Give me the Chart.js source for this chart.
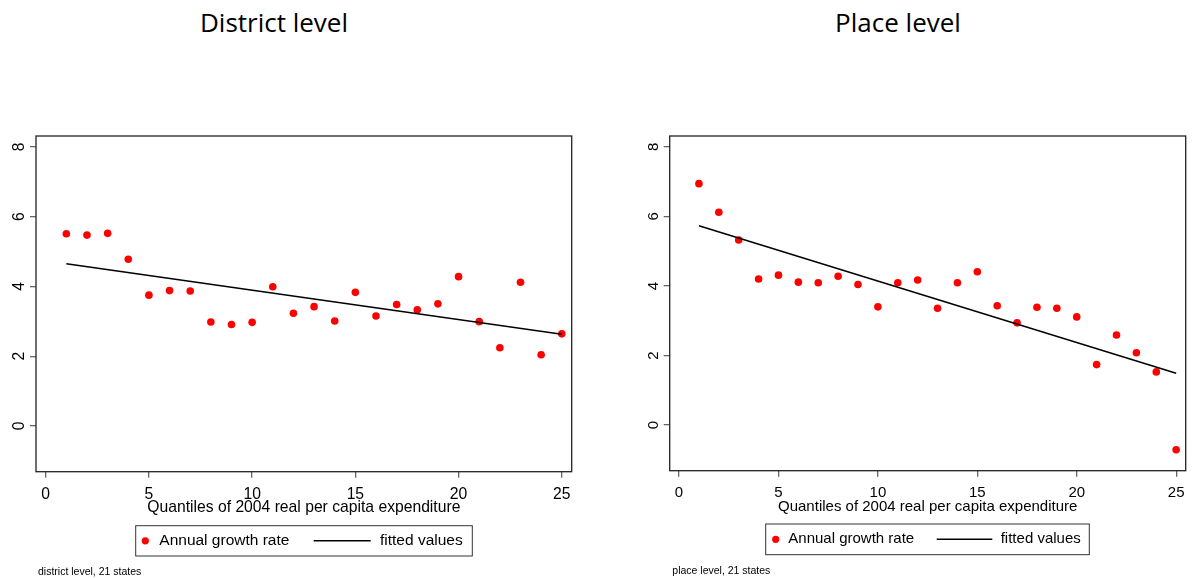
<!DOCTYPE html>
<html>
<head>
<meta charset="utf-8">
<title>Growth by quantile</title>
<script src="https://cdn.jsdelivr.net/npm/chart.js@4.4.1/dist/chart.umd.min.js"></script>
<style>
    body { margin: 0; background: #fff; width: 1193px; height: 578px; position: relative; overflow: hidden; }
    .titulo { position: absolute; top: 7px; width: 300px; text-align: center; font-family: "Open Sans", sans-serif; font-size: 26px; line-height: 30px; color: #000; }
    canvas { position: absolute; top: 0; }
</style>
</head>
<body>
<div class="titulo" style="left:124px">District level</div>
<div class="titulo" style="left:748px">Place level</div>
<canvas id="graficoDistrito" width="600" height="578" style="left:0"></canvas>
<canvas id="graficoLugar" width="593" height="578" style="left:600px"></canvas>

<script>
const cuantiles = [1, 2, 3, 4, 5, 6, 7, 8, 9, 10, 11, 12, 13, 14, 15, 16, 17, 18, 19, 20, 21, 22, 23, 24, 25];
const crecimientoDistrito = [5.51, 5.47, 5.52, 4.78, 3.75, 3.88, 3.87, 2.98, 2.91, 2.97, 3.99, 3.23, 3.42, 3.01, 3.83, 3.15, 3.48, 3.33, 3.50, 4.28, 2.99, 2.24, 4.12, 2.04, 2.64];
const crecimientoLugar = [6.94, 6.12, 5.32, 4.20, 4.31, 4.11, 4.09, 4.28, 4.04, 3.40, 4.09, 4.17, 3.36, 4.09, 4.41, 3.43, 2.94, 3.39, 3.36, 3.11, 1.74, 2.59, 2.08, 1.53, -0.71];
const ajusteX = [1, 25];
const ajusteDistrito = [4.65, 2.63];
const ajusteLugar = [5.73, 1.49];
const ticksX = [0, 5, 10, 15, 20, 25];
const ticksY = [0, 2, 4, 6, 8];
const etiquetas = ['Annual growth rate', 'fitted values'];
const tituloEjeX = 'Quantiles of 2004 real per capita expenditure';

Chart.defaults.font.family = '"Liberation Sans", Arial, sans-serif';
Chart.defaults.color = '#000';

// marco del grafico, leyenda con recuadro y nota al pie
const marcoPlugin = {
    id: 'marco',
    afterDraw(chart, args, opts) {
        const ctx = chart.ctx;
        const a = chart.chartArea;
        ctx.save();
        ctx.strokeStyle = '#222';
        ctx.lineWidth = 1.3;
        ctx.strokeRect(a.left, a.top, a.right - a.left, a.bottom - a.top);

        const L = opts.leyenda;
        const ds = chart.data.datasets;
        const cy = L.y + L.h / 2;
        ctx.strokeStyle = '#333';
        ctx.lineWidth = 1;
        ctx.strokeRect(L.x, L.y, L.w, L.h);
        ctx.fillStyle = ds[0].backgroundColor;
        ctx.beginPath();
        ctx.arc(L.punto, cy, 3.6, 0, Math.PI * 2);
        ctx.fill();
        ctx.strokeStyle = ds[1].borderColor;
        ctx.lineWidth = 1.5;
        ctx.beginPath();
        ctx.moveTo(L.linea[0], cy);
        ctx.lineTo(L.linea[1], cy);
        ctx.stroke();
        ctx.fillStyle = '#000';
        ctx.font = L.fuente + 'px "Liberation Sans", Arial, sans-serif';
        ctx.textAlign = 'left';
        ctx.textBaseline = 'middle';
        ctx.fillText(ds[0].label, L.texto1, cy);
        ctx.fillText(ds[1].label, L.texto2, cy);

        ctx.font = '10.5px "Liberation Sans", Arial, sans-serif';
        ctx.fillText(opts.nota, opts.notaX, opts.notaY);
        ctx.restore();
    }
};

function crearGrafico(id, valores, ajuste, g) {
    const ctx = document.getElementById(id).getContext('2d');
    return new Chart(ctx, {
        type: 'scatter',
        data: {
            datasets: [{
                label: etiquetas[0],
                data: cuantiles.map((q, i) => ({ x: q, y: valores[i] })),
                backgroundColor: '#ff0000',
                borderColor: '#ff0000',
                pointRadius: 3.8,
                pointBorderWidth: 0,
                order: 2
            }, {
                label: etiquetas[1],
                data: ajusteX.map((q, i) => ({ x: q, y: ajuste[i] })),
                showLine: true,
                borderColor: '#000',
                borderWidth: 1.5,
                pointRadius: 0,
                order: 1
            }]
        },
        options: {
            responsive: false,
            animation: false,
            layout: { padding: g.padding },
            plugins: {
                legend: { display: false },
                tooltip: { enabled: false },
                marco: { leyenda: g.leyenda, nota: g.nota, notaX: g.notaX, notaY: g.notaY }
            },
            scales: {
                x: {
                    type: 'linear',
                    min: -0.47,
                    max: 25.48,
                    afterBuildTicks: s => { s.ticks = ticksX.map(v => ({ value: v })); },
                    afterFit: s => { s.height = 50; },
                    border: { display: false },
                    grid: { drawOnChartArea: false, drawTicks: true, tickLength: 6, color: '#666', lineWidth: 1.3 },
                    ticks: { font: { size: g.fuente }, padding: 7.5 },
                    title: { display: true, text: tituloEjeX, font: { size: g.fuente }, padding: { top: 0, bottom: g.tituloPad } }
                },
                y: {
                    type: 'linear',
                    min: -1.31,
                    max: 8.31,
                    afterBuildTicks: s => { s.ticks = ticksY.map(v => ({ value: v })); },
                    afterFit: s => { s.width = 36; },
                    border: { display: false },
                    grid: { drawOnChartArea: false, drawTicks: true, tickLength: 6, color: '#666', lineWidth: 1.3 },
                    ticks: { font: { size: g.fuente }, padding: 6, minRotation: 90, maxRotation: 90, crossAlign: 'center' }
                }
            }
        },
        plugins: [marcoPlugin]
    });
}

document.addEventListener("DOMContentLoaded", function(){
    crearGrafico('graficoDistrito', crecimientoDistrito, ajusteDistrito, {
        padding: { left: 0, top: 136, right: 28.3, bottom: 56.3 },
        fuente: 15.7,
        tituloPad: 4.5,
        leyenda: { x: 135.7, y: 525.7, w: 336.6, h: 30.3, punto: 145.3, linea: [313.7, 370.7], texto1: 159.3, texto2: 380, fuente: 15.5 },
        nota: 'district level, 21 states', notaX: 38, notaY: 572
    });
    crearGrafico('graficoLugar', crecimientoLugar, ajusteLugar, {
        padding: { left: 33.7, top: 136, right: 7.3, bottom: 57.3 },
        fuente: 15,
        tituloPad: 4.8,
        leyenda: { x: 165.7, y: 524, w: 323.6, h: 30.7, punto: 175.7, linea: [336.7, 392.3], texto1: 188.3, texto2: 400.7, fuente: 15 },
        nota: 'place level, 21 states', notaX: 72.3, notaY: 571
    });
});
</script>
</body>
</html>
